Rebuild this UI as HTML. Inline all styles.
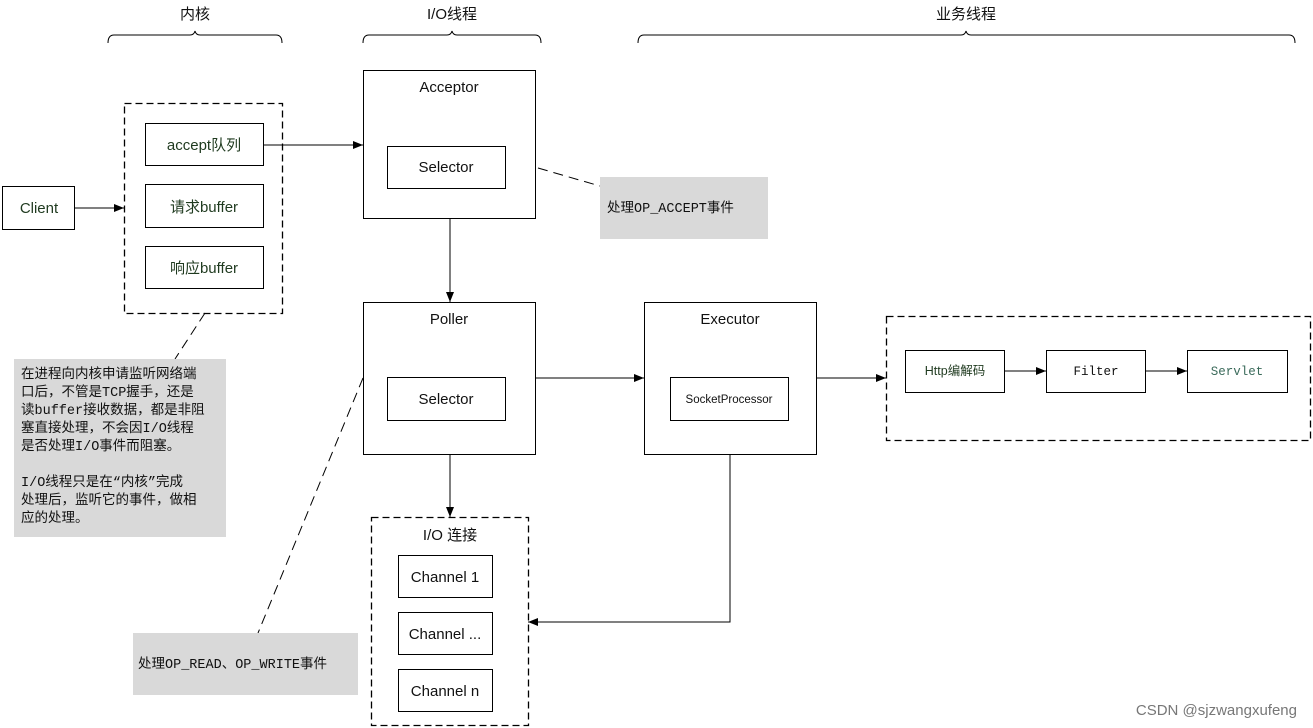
<!DOCTYPE html>
<html><head><meta charset="utf-8"><style>
html,body{margin:0;padding:0;background:#fff;}
svg{display:block;}
text{font-family:"Liberation Sans","Noto Sans CJK SC",sans-serif;font-size:15px;fill:#111;}
.g{fill:#1f3a1f;}
.m{font-family:"Liberation Mono","Noto Sans CJK SC",monospace;font-size:12.5px;}
</style></head><body>
<svg width="1313" height="728" viewBox="0 0 1313 728" xmlns="http://www.w3.org/2000/svg">
<defs><marker id="a" markerWidth="10" markerHeight="8" refX="10" refY="4" orient="auto" markerUnits="userSpaceOnUse"><path d="M0,0L10,4L0,8z" fill="#000"/></marker></defs>
<g fill="none" stroke="#000" stroke-width="1">
<path d="M108,43 Q108,35 114,35 L190,35 Q194,35 195,31 Q196,35 200,35 L276,35 Q282,35 282,43"/>
<path d="M363,43 Q363,35 369,35 L447,35 Q451,35 452,31 Q453,35 457,35 L535,35 Q541,35 541,43"/>
<path d="M638,43 Q638,35 644,35 L961,35 Q965,35 966,31 Q967,35 971,35 L1289,35 Q1295,35 1295,43"/>
<rect x="2.5" y="186.5" width="72" height="43"/>
<rect x="124.5" y="103.5" width="158" height="210" stroke-dasharray="7,4" stroke-width="1.3"/>
<rect x="145.5" y="123.5" width="118" height="42"/>
<rect x="145.5" y="184.5" width="118" height="43"/>
<rect x="145.5" y="246.5" width="118" height="42"/>
<rect x="363.5" y="70.5" width="172" height="148"/>
<rect x="387.5" y="146.5" width="118" height="42"/>
<rect x="363.5" y="302.5" width="172" height="152"/>
<rect x="387.5" y="377.5" width="118" height="43"/>
<rect x="644.5" y="302.5" width="172" height="152"/>
<rect x="670.5" y="377.5" width="118" height="43"/>
<rect x="886.5" y="316.5" width="424" height="124" stroke-dasharray="7,4" stroke-width="1.3"/>
<rect x="905.5" y="350.5" width="99" height="42"/>
<rect x="1046.5" y="350.5" width="99" height="42"/>
<rect x="1187.5" y="350.5" width="100" height="42"/>
<rect x="371.5" y="517.5" width="157" height="208" stroke-dasharray="7,4" stroke-width="1.3"/>
<rect x="398.5" y="555.5" width="94" height="42"/>
<rect x="398.5" y="612.5" width="94" height="42"/>
<rect x="398.5" y="669.5" width="94" height="42"/>
<path d="M75,208H124" marker-end="url(#a)"/>
<path d="M263,145H363" marker-end="url(#a)"/>
<path d="M450,218V302" marker-end="url(#a)"/>
<path d="M535,378H644" marker-end="url(#a)"/>
<path d="M816,378H886" marker-end="url(#a)"/>
<path d="M1004,371H1046" marker-end="url(#a)"/>
<path d="M1145,371H1187" marker-end="url(#a)"/>
<path d="M450,454V517" marker-end="url(#a)"/>
<path d="M730,454V622H528" marker-end="url(#a)"/>
<path d="M538,168L600,186" stroke-dasharray="10,6"/>
<path d="M205,313L175,359" stroke-dasharray="10,6"/>
<path d="M363,378L258,633" stroke-dasharray="10,6"/>
</g>
<rect x="600" y="177" width="168" height="62" fill="#d9d9d9"/>
<rect x="14" y="359" width="212" height="178" fill="#d9d9d9"/>
<rect x="133" y="633" width="225" height="62" fill="#d9d9d9"/>
<text x="195" y="19" text-anchor="middle">内核</text>
<text x="452" y="19" text-anchor="middle">I/O线程</text>
<text x="966" y="19" text-anchor="middle">业务线程</text>
<text x="39" y="213" text-anchor="middle" class="g">Client</text>
<text x="204" y="150" text-anchor="middle" class="g">accept队列</text>
<text x="204" y="212" text-anchor="middle" class="g">请求buffer</text>
<text x="204" y="273" text-anchor="middle" class="g">响应buffer</text>
<text x="449" y="92" text-anchor="middle">Acceptor</text>
<text x="446" y="172" text-anchor="middle">Selector</text>
<text x="449" y="324" text-anchor="middle">Poller</text>
<text x="446" y="404" text-anchor="middle">Selector</text>
<text x="730" y="324" text-anchor="middle">Executor</text>
<text x="729" y="403" text-anchor="middle" style="font-size:11.5px">SocketProcessor</text>
<text x="955" y="375" text-anchor="middle" class="g" style="font-size:12.5px">Http编解码</text>
<text x="1096" y="375" text-anchor="middle" class="m">Filter</text>
<text x="1237" y="375" text-anchor="middle" class="m" style="fill:#3a6a5a">Servlet</text>
<text x="450" y="540" text-anchor="middle">I/O 连接</text>
<text x="445" y="582" text-anchor="middle">Channel  1</text>
<text x="445" y="639" text-anchor="middle">Channel ...</text>
<text x="445" y="696" text-anchor="middle">Channel n</text>
<text x="607" y="212" class="m" style="font-size:13.5px">处理OP_ACCEPT事件</text>
<text x="138" y="668" class="m" style="font-size:13.5px">处理OP_READ、OP_WRITE事件</text>
<text x="21" y="378" class="m" style="font-size:13.5px">在进程向内核申请监听网络端</text>
<text x="21" y="396" class="m" style="font-size:13.5px">口后，不管是TCP握手，还是</text>
<text x="21" y="414" class="m" style="font-size:13.5px">读buffer接收数据，都是非阻</text>
<text x="21" y="432" class="m" style="font-size:13.5px">塞直接处理，不会因I/O线程</text>
<text x="21" y="450" class="m" style="font-size:13.5px">是否处理I/O事件而阻塞。</text>
<text x="21" y="486" class="m" style="font-size:13.5px">I/O线程只是在“内核”完成</text>
<text x="21" y="504" class="m" style="font-size:13.5px">处理后，监听它的事件，做相</text>
<text x="21" y="522" class="m" style="font-size:13.5px">应的处理。</text>
<text x="1297" y="715" text-anchor="end" style="font-size:15px;fill:#777">CSDN @sjzwangxufeng</text>
</svg>
</body></html>
